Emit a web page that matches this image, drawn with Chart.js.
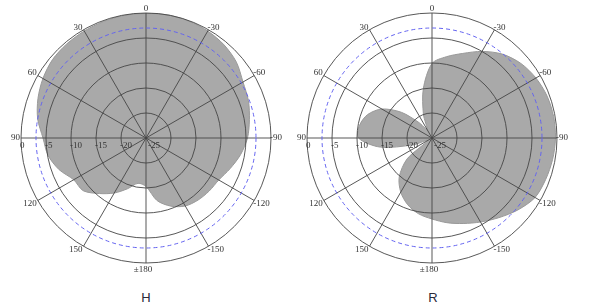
<!DOCTYPE html>
<html><head><meta charset="utf-8">
<script src="https://cdn.jsdelivr.net/npm/chart.js@4.4.1/dist/chart.umd.min.js"></script>
<style>
html,body{margin:0;padding:0;background:#fff;width:589px;height:307px;overflow:hidden;}
canvas{position:absolute;top:0;}
#c1{left:0}
#c2{left:292px}
.t{position:absolute;top:290px;font-family:"Liberation Sans",Arial,sans-serif;font-size:13px;color:#2a2a3a;width:40px;text-align:center;}
</style></head><body>
<canvas id="c1" width="292" height="280"></canvas>
<canvas id="c2" width="297" height="280"></canvas>
<div class="t" style="left:126px">H</div>
<div class="t" style="left:413px">R</div>
<script>
// angle categories, clockwise from top (positive angles = counter-clockwise / left side)
const angles = [0,-10,-20,-30,-40,-50,-60,-70,-80,-90,-100,-110,-120,-130,-140,-150,-160,-170,
                180,170,160,150,140,130,120,110,100,90,80,70,60,50,40,30,20,10];
// H-plane pattern (dB)
const hValues = [-0.1,0,-0.1,-0.3,-0.7,-1.4,-2.6,-3.2,-4.0,-4.7,-5.8,-7.1,-8.2,-8.5,-8.8,-9.3,-10.5,-12.3,
                 -15.3,-15.8,-14.2,-12.3,-10.5,-8.6,-8.3,-6.5,-5.1,-4.4,-3.0,-2.0,-1.2,-0.6,-0.4,-0.3,-0.2,-0.1];
// R pattern (dB)
const rValues = [-10.1,-8.5,-7.0,-5.0,-3.1,-1.8,-1.0,-0.5,-0.3,-0.3,-0.5,-0.8,-1.2,-2.6,-4.2,-5.6,-6.8,-7.8,
                 -8.8,-9.6,-10.8,-12.5,-14.8,-18.5,-24,-21,-14.5,-10.3,-10.3,-11.3,-13.4,-17,-21,-23,-20,-15];
const ringValues = [0,-5,-10,-15,-20,-25];
const ringLabels = ['0','-5','-10','-15','-20','-25'];
const refLevel = -3;
const angleTickValues = [0,-30,-60,-90,-120,-150,180,150,120,90,60,30];
const angleTickLabels = ['0','-30','-60','-90','-120','-150','\u00b1180','150','120','90','60','30'];

const lineCol = 'rgba(70,70,70,0.9)';

const deco = {
  id: 'deco',
  afterDraw(chart) {
    const s = chart.scales.r, ctx = chart.ctx;
    ctx.save();
    ctx.strokeStyle = '#6464f0';
    ctx.lineWidth = 1;
    ctx.setLineDash([4, 3]);
    ctx.beginPath();
    ctx.arc(s.xCenter, s.yCenter, s.getDistanceFromCenterForValue(refLevel), 0, Math.PI * 2);
    ctx.stroke();
    ctx.setLineDash([]);
    ctx.fillStyle = '#333';
    ctx.font = '9px "Liberation Serif", "DejaVu Serif", serif';
    ctx.textAlign = 'left';
    ctx.textBaseline = 'top';
    ringValues.forEach((v, i) => {
      const d = s.getDistanceFromCenterForValue(v);
      ctx.fillText(ringLabels[i], s.xCenter - d + (i === ringValues.length - 1 ? 2 : -1), s.yCenter + 3);
    });
    const R = s.drawingArea;
    angleTickValues.forEach((a, i) => {
      const idx = angles.indexOf(a);
      const p = s.getPointPosition(idx, R);
      const rad = a * Math.PI / 180;
      const dx = -Math.sin(rad), dy = -Math.cos(rad);
      let x = p.x, y = p.y;
      if (Math.abs(dx) < 0.01) {
        ctx.textAlign = 'center';
        if (dy < 0) { ctx.textBaseline = 'bottom'; y = p.y; }
        else { ctx.textBaseline = 'top'; y = p.y + 2; x = p.x - 3; }
      } else {
        if (dx < 0) { ctx.textAlign = 'right'; x = p.x - 1; }
        else { ctx.textAlign = 'left'; x = p.x - 1; }
        if (Math.abs(dy) < 0.01) { ctx.textBaseline = 'middle'; y = p.y; }
        else if (dy < 0) { ctx.textBaseline = 'bottom'; y = p.y + 2; }
        else { ctx.textBaseline = 'top'; y = p.y - 1; }
      }
      ctx.fillText(angleTickLabels[i], x, y);
    });
    ctx.restore();
  }
};

function makeChart(id, values, pad) {
  return new Chart(document.getElementById(id), {
    type: 'radar',
    data: {
      labels: angles,
      datasets: [{
        data: values,
        backgroundColor: '#a9a9a9',
        borderColor: '#999999',
        borderWidth: 1,
        pointRadius: 0,
        tension: 0.3,
        fill: 'start'
      }]
    },
    options: {
      responsive: false,
      animation: false,
      devicePixelRatio: 1,
      layout: { padding: pad },
      plugins: { legend: { display: false }, tooltip: { enabled: false } },
      scales: {
        r: {
          min: -25, max: 0, startAngle: 0,
          ticks: { display: false, stepSize: 5 },
          pointLabels: { display: false },
          grid: { circular: true, color: lineCol, lineWidth: 1, z: 1 },
          angleLines: {
            display: true,
            color: c => (c.index % 3 === 0 ? lineCol : 'rgba(0,0,0,0)'),
            lineWidth: c => (c.index % 3 === 0 ? 1 : 0)
          }
        }
      }
    },
    plugins: [deco]
  });
}

makeChart('c1', hValues, { left: 21, right: 21, top: 13, bottom: 17 });
makeChart('c2', rValues, { left: 15, right: 32, top: 13, bottom: 17 });
</script>
</body></html>
